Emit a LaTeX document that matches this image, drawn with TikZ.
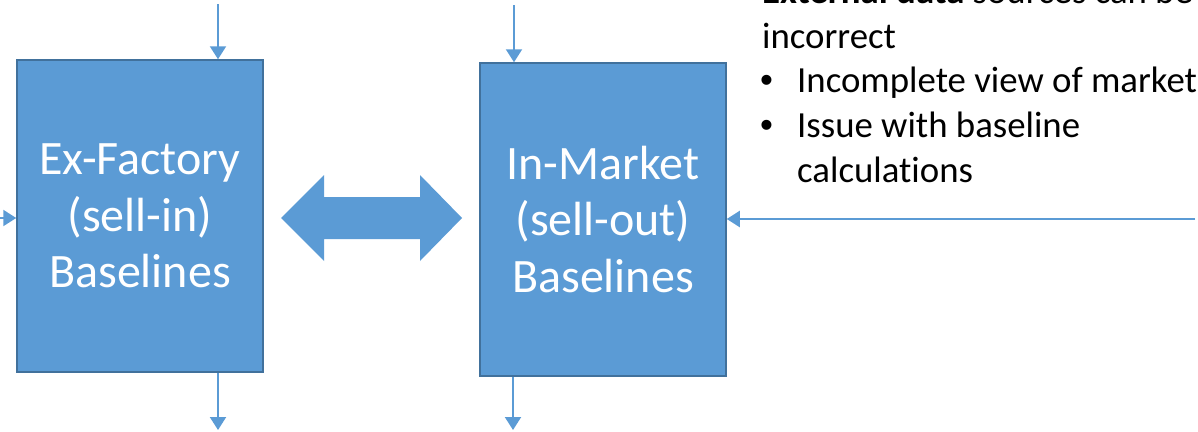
\documentclass[tikz,border=0pt]{standalone}
\usepackage{fontspec}
\setmainfont{Carlito}[Ligatures=NoCommon]
\newfontfamily\dotfont{Liberation Sans}
\usetikzlibrary{arrows.meta}
\definecolor{boxfill}{HTML}{5B9BD5}
\definecolor{boxline}{HTML}{41719C}

\begin{document}
\begin{tikzpicture}[x=1pt,y=-1pt,
  stage/.style={draw=boxline, line width=1.5pt, fill=boxfill, text=white,
    minimum width=246pt, inner sep=0pt, align=center,
    font=\fontsize{48}{56.5}\selectfont},
  flow/.style={draw=boxfill, line width=2pt, -{Triangle[width=16pt,length=13pt]}},
  note/.style={anchor=base west, inner sep=0pt, font=\fontsize{36.8}{44}\selectfont}]

\useasboundingbox (0,0) rectangle (1198,431);

% the two baseline stages
\node[stage, minimum height=312pt] (exf) at (140,216) {Ex-Factory\\(sell-in)\\Baselines};
\node[stage, minimum height=313pt] (inm) at (603,219.5) {In-Market\\(sell-out)\\Baselines};

% two-way link between the stages
\fill[boxfill] (281,218) -- (324,175) -- (324,197) -- (420,197) -- (420,175)
  -- (462,218) -- (420,261) -- (420,239) -- (324,239) -- (324,261) -- cycle;

% inputs and outputs
\coordinate (exin) at (218,4);
\coordinate (exout) at (218,430);
\coordinate (exleft) at (0,218);
\coordinate (imin) at (514,5);
\coordinate (imout) at (513,430);
\coordinate (imright) at (1195,219);

\draw[flow] (exin) -- (exin |- exf.north);
\draw[flow] (exf.south -| exout) -- (exout);
\draw[flow] (exleft) -- (exleft -| exf.west);
\draw[flow] (imin) -- (imin |- inm.north);
\draw[flow] (inm.south -| imout) -- (imout);
\draw[flow] (imright) -- (imright -| inm.east);

% notes on external data
\node[note] (n1) at (762,4) {\textbf{External data} sources can be};
\node[note] (n2) at (762,48) {incorrect};
\node[note] (b1) at (760,92) {\dotfont •};
\node[note] (n3) at (797,92) {Incomplete view of market};
\node[note] (b2) at (760,137) {\dotfont •};
\node[note] (n4) at (797,137) {Issue with baseline};
\node[note] (n5) at (797,182) {calculations};
\end{tikzpicture}
\end{document}
